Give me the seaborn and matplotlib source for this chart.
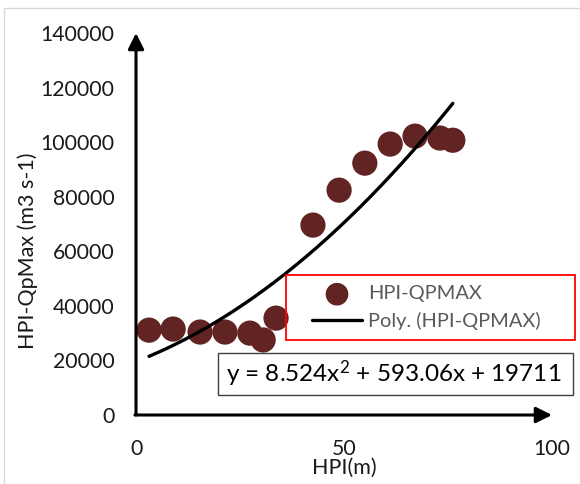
import numpy as np
import pandas as pd
import matplotlib
matplotlib.use("Agg")
import matplotlib.pyplot as plt
from matplotlib.patches import Rectangle
import seaborn as sns

# HPI (m) and peak discharge values
hpi = [2.9, 8.7, 15.2, 21.2, 27.2, 30.4, 33.5, 42.4, 48.7, 54.9, 61.0, 67.0, 73.0, 76.1]
qpmax = [31100, 31500, 30400, 30400, 30000, 27500, 35500,
         69600, 82400, 92300, 99300, 102200, 101500, 100700]

# second-order polynomial trend coefficients (a*x^2 + b*x + c)
poly_coef = [8.524, 593.06, 19711]
equation_text = "y = 8.524x$^2$ + 593.06x + 19711"

x_ticks = [0, 50, 100]
y_ticks = [0, 20000, 40000, 60000, 80000, 100000, 120000, 140000]

sns.set_theme(style="white")
plt.rcParams["font.family"] = ["Lato", "DejaVu Sans"]
plt.rcParams["mathtext.fontset"] = "custom"
plt.rcParams["mathtext.rm"] = "Lato"
plt.rcParams["mathtext.it"] = "Lato"

W, H = 580, 484
fig = plt.figure(figsize=(W / 100, H / 100), dpi=100)
ax = fig.add_axes([137 / W, 1 - 415 / H, 415 / W, 382 / H])

df = pd.DataFrame({"HPI": hpi, "Q": qpmax})
sns.scatterplot(data=df, x="HPI", y="Q", ax=ax, s=330, color="#622423",
                edgecolor="none", label="HPI-QPMAX", zorder=3, clip_on=False)

xs = np.linspace(min(hpi), max(hpi), 200)
fit = pd.DataFrame({"HPI": xs, "Q": np.polyval(poly_coef, xs)})
sns.lineplot(data=fit, x="HPI", y="Q", ax=ax, color="black", lw=2.4,
             label="Poly. (HPI-QPMAX)", zorder=4)

ax.set_xlim(0, 100)
ax.set_ylim(0, 140000)
ax.set_xticks(x_ticks)
ax.set_yticks(y_ticks)
ax.tick_params(axis="both", length=0, labelsize=15.3, colors="#1a1a1a")
ax.tick_params(axis="y", pad=16)
ax.tick_params(axis="x", pad=17)
for s in ax.spines.values():
    s.set_visible(False)

ax.set_xlabel("HPI(m)", fontsize=15.5, color="#1a1a1a")
ax.set_ylabel("HPI-QpMax (m3 s-1)", fontsize=15.5, color="#1a1a1a")
ax.xaxis.set_label_coords(0.5, -0.113)
ax.yaxis.set_label_coords(-0.238, 0.43)

# arrowed axes
arrow = dict(arrowstyle="-|>", lw=2.2, color="black", mutation_scale=24,
             shrinkA=0, shrinkB=0)
ax.annotate("", xy=(-0.24, 140000), xytext=(-0.24, 0), arrowprops=arrow,
            annotation_clip=False)
ax.annotate("", xy=(100, 0), xytext=(-0.5, 0), arrowprops=arrow,
            annotation_clip=False)

# legend with a red outline
leg = ax.legend(loc="center left", bbox_to_anchor=(312 / W, 1 - 307.5 / H),
                bbox_transform=fig.transFigure, fontsize=14.4, frameon=False,
                borderpad=0, labelspacing=0.45, handlelength=2.5,
                handletextpad=0.3, borderaxespad=0, markerscale=0.9)
for t in leg.get_texts():
    t.set_color("#595959")
fig.patches.append(Rectangle((286 / W, 1 - 340 / H), 289 / W, 65 / H,
                             transform=fig.transFigure, fill=False,
                             ec="#ff0000", lw=1.3, zorder=5))

# trendline equation in a box
fig.patches.append(Rectangle((218 / W, 1 - 395 / H), 355 / W, 42 / H,
                             transform=fig.transFigure, fc="white",
                             ec="#404040", lw=1, zorder=5))
fig.text(226 / W, 1 - 374 / H, equation_text, fontsize=17.5, color="black",
         va="center", ha="left", zorder=6)

# chart area border
fig.patches.append(Rectangle((4 / W, -0.1), 1.2, 1.1 - 8 / H,
                             transform=fig.transFigure, fill=False,
                             ec="#d9d9d9", lw=1))

fig.savefig("out.png", dpi=100)
